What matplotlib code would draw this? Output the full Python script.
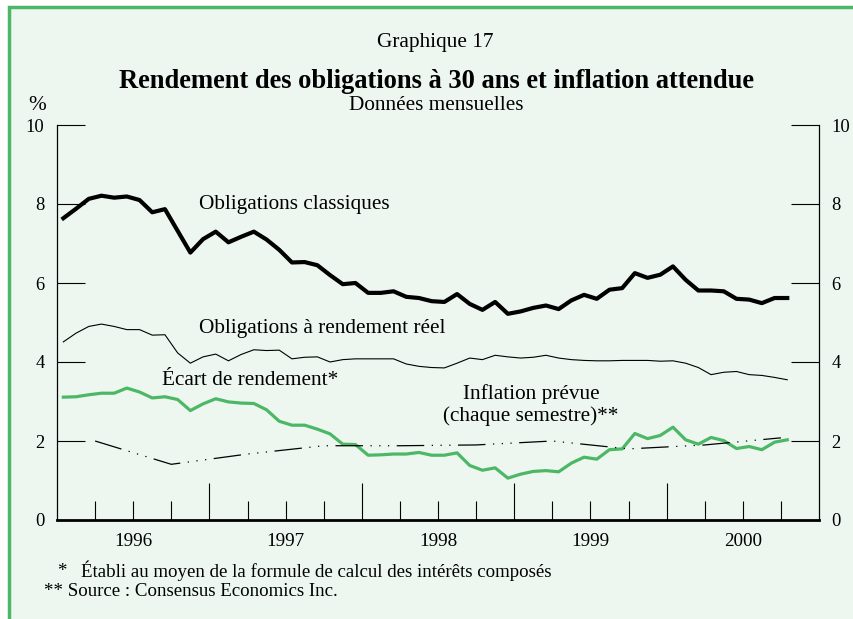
import matplotlib
matplotlib.use('Agg')
import matplotlib.pyplot as plt
import numpy as np
from matplotlib.patches import Rectangle

plt.rcParams['font.family'] = 'Liberation Serif'

# monthly series, Jan 1996 .. Oct 2000
bond = [7.64, 7.88, 8.13, 8.21, 8.16, 8.19, 8.10, 7.79, 7.87, 7.32,
        6.77, 7.11, 7.30, 7.03, 7.17, 7.30, 7.10, 6.84, 6.52, 6.53,
        6.45, 6.20, 5.97, 6.00, 5.75, 5.75, 5.79, 5.65, 5.62, 5.54,
        5.52, 5.72, 5.47, 5.32, 5.52, 5.22, 5.28, 5.37, 5.43, 5.34,
        5.56, 5.70, 5.60, 5.83, 5.87, 6.25, 6.13, 6.21, 6.42, 6.08,
        5.81, 5.81, 5.79, 5.60, 5.58, 5.49, 5.62, 5.62]
real = [4.51, 4.73, 4.90, 4.96, 4.90, 4.82, 4.82, 4.68, 4.69, 4.23,
        3.97, 4.13, 4.20, 4.03, 4.19, 4.31, 4.29, 4.30, 4.08, 4.12,
        4.13, 4.00, 4.06, 4.08, 4.08, 4.08, 4.08, 3.95, 3.89, 3.86,
        3.85, 3.97, 4.10, 4.06, 4.17, 4.13, 4.10, 4.12, 4.17, 4.10,
        4.06, 4.04, 4.03, 4.03, 4.04, 4.04, 4.04, 4.02, 4.03, 3.97,
        3.86, 3.68, 3.74, 3.76, 3.68, 3.66, 3.61, 3.55]
spread = [3.11, 3.12, 3.17, 3.21, 3.21, 3.34, 3.24, 3.09, 3.12, 3.05,
          2.77, 2.94, 3.07, 2.99, 2.96, 2.95, 2.79, 2.50, 2.40, 2.40,
          2.30, 2.18, 1.92, 1.91, 1.64, 1.65, 1.67, 1.67, 1.71, 1.64,
          1.64, 1.70, 1.38, 1.26, 1.32, 1.06, 1.16, 1.23, 1.25, 1.22,
          1.44, 1.59, 1.54, 1.78, 1.80, 2.19, 2.06, 2.14, 2.35, 2.03,
          1.92, 2.09, 2.01, 1.81, 1.86, 1.78, 1.97, 2.03]

# semi-annual expected inflation (months after Jan 1996)
infl_months = [3, 9, 15, 21, 27, 33, 39, 45, 51, 57]
infl = [2.00, 1.41, 1.67, 1.88, 1.88, 1.90, 2.00, 1.80, 1.90, 2.08]

years = [1996, 1997, 1998, 1999, 2000]
yticks = [0, 2, 4, 6, 8, 10]

green = '#4cb866'
bg = '#edf7f0'
fs = 15.3

x_monthly = 1996 + (np.arange(len(bond)) + 0.5) / 12
x_infl = 1996 + np.array(infl_months) / 12

W, H = 854, 619
fig = plt.figure(figsize=(W / 100, H / 100), dpi=100)
fig.patch.set_facecolor('white')
fig.patches.append(Rectangle((9 / W, -0.1), 2, 1.1 - 7 / H, transform=fig.transFigure,
                             facecolor=bg, edgecolor=green, lw=2.5, zorder=-1))

ax = fig.add_axes([57 / W, 1 - 520 / H, (819 - 57) / W, (520 - 125) / H])
ax.set_facecolor('none')
ax.set_xlim(1996, 2001)
ax.set_ylim(0, 10)

ax.spines['top'].set_visible(False)
ax.spines['left'].set_linewidth(0.9)
ax.spines['right'].set_linewidth(0.9)
ax.spines['bottom'].set_linewidth(2)

ax.set_yticks(yticks)
ax.set_yticklabels([str(v) for v in yticks])
ax.tick_params(axis='y', direction='in', length=20, width=0.8, left=True, right=True,
               labelleft=True, labelright=True, pad=9, labelsize=13.3)

ax.set_xticks(years[1:])
ax.set_xticks([y + q for y in years for q in (0.25, 0.5, 0.75)], minor=True)
ax.tick_params(axis='x', which='major', direction='in', length=27, width=0.8, labelbottom=False)
ax.tick_params(axis='x', which='minor', direction='in', length=14, width=0.8)
for yr in years:
    ax.text(yr + 0.5, -0.55, str(yr), ha='center', va='center', fontsize=13.8)

ax.plot(x_monthly, bond, color='black', lw=3)
ax.plot(x_monthly, real, color='black', lw=0.8)
ax.plot(x_monthly, spread, color=green, lw=2.3)
ax.plot(x_infl, infl, color='black', lw=0.9, linestyle=(0, (22, 6, 1, 6, 1, 6, 1, 6)))

# series labels
ax.text(1996.93, 8.0, 'Obligations classiques', fontsize=fs, va='center')
ax.text(1996.93, 4.86, 'Obligations à rendement réel', fontsize=fs, va='center')
ax.text(1996.69, 3.54, 'Écart de rendement*', fontsize=fs, va='center')
ax.text(1999.11, 3.19, 'Inflation prévue', fontsize=fs, va='center', ha='center')
ax.text(1999.11, 2.62, '(chaque semestre)**', fontsize=fs, va='center', ha='center')

# titles
fig.text(435.5 / W, 1 - 42 / H, 'Graphique 17', fontsize=fs, ha='center', va='center')
fig.text(436.5 / W, 1 - 81 / H, 'Rendement des obligations à 30 ans et inflation attendue',
         fontsize=19.1, fontweight='bold', ha='center', va='center')
fig.text(436.5 / W, 1 - 106 / H, 'Données mensuelles', fontsize=fs, ha='center', va='center')
fig.text(37 / W, 1 - 105 / H, '%', fontsize=fs, ha='center', va='center')

# footnotes
fig.text(57 / W, 1 - 571 / H, '*', fontsize=13.6, va='center')
fig.text(81 / W, 1 - 571 / H, 'Établi au moyen de la formule de calcul des intérêts composés',
         fontsize=13.6, va='center')
fig.text(44 / W, 1 - 591 / H, '** Source : Consensus Economics Inc.', fontsize=13.6, va='center')

fig.savefig('out.png', dpi=100)
